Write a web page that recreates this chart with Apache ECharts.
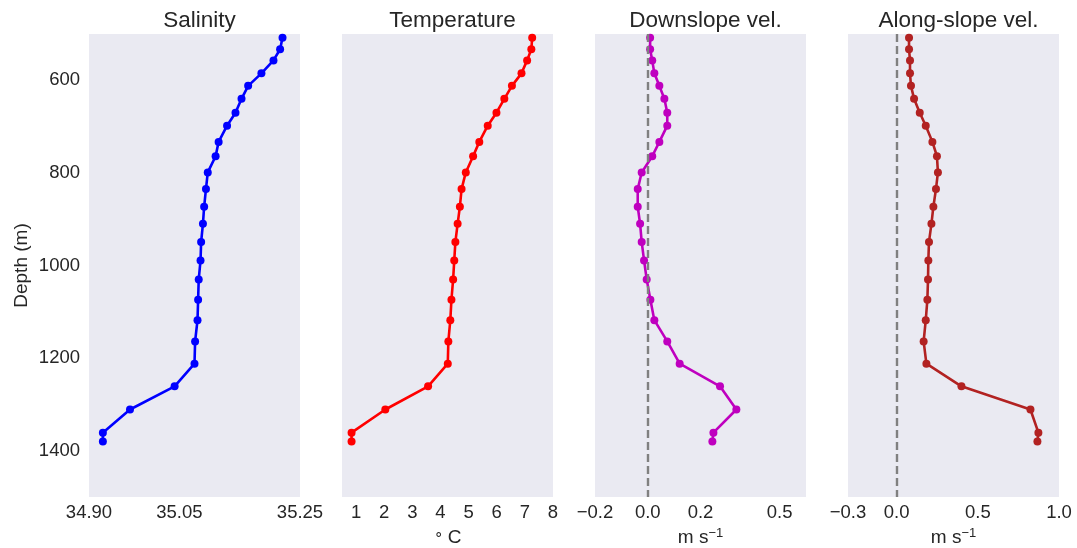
<!DOCTYPE html>
<html>
<head>
<meta charset="utf-8">
<script src="https://cdn.jsdelivr.net/npm/echarts@6/dist/echarts.min.js"></script>
<style>
html,body{margin:0;padding:0;background:#fff;}
#chart{width:1077px;height:548px;}
</style>
</head>
<body>
<div id="chart"></div>
<script>
const depth = [508, 533, 557, 585, 612, 640, 670, 698, 733, 764, 799, 835, 873, 910, 949, 989, 1030, 1074, 1118, 1164, 1212, 1261, 1311, 1361, 1380];
const salinity = [35.221, 35.217, 35.206, 35.186, 35.164, 35.153, 35.143, 35.129, 35.115, 35.110, 35.097, 35.094, 35.091, 35.089, 35.086, 35.085, 35.082, 35.081, 35.080, 35.076, 35.075, 35.042, 34.968, 34.923, 34.923];
const temperature = [7.26, 7.23, 7.08, 6.88, 6.54, 6.27, 5.99, 5.68, 5.38, 5.16, 4.90, 4.75, 4.69, 4.61, 4.53, 4.49, 4.45, 4.39, 4.35, 4.28, 4.26, 3.56, 2.04, 0.84, 0.84];
const downslope = [0.009, 0.009, 0.017, 0.025, 0.044, 0.063, 0.074, 0.074, 0.044, 0.017, -0.023, -0.038, -0.038, -0.029, -0.023, -0.014, -0.004, 0.010, 0.025, 0.074, 0.121, 0.274, 0.336, 0.249, 0.245];
const alongslope = [0.076, 0.076, 0.082, 0.082, 0.088, 0.107, 0.142, 0.179, 0.220, 0.248, 0.254, 0.242, 0.226, 0.214, 0.199, 0.195, 0.193, 0.189, 0.179, 0.166, 0.183, 0.399, 0.824, 0.873, 0.867];

const depthTicks = [600, 800, 1000, 1200, 1400];
const salinityTicks = [34.90, 35.05, 35.25];
const temperatureTicks = [1, 2, 3, 4, 5, 6, 7, 8];
const downslopeTicks = [-0.2, 0.0, 0.2, 0.5];
const alongTicks = [-0.3, 0.0, 0.5, 1.0];

const titles = ['Salinity', 'Temperature', 'Downslope vel.', 'Along-slope vel.'];
const xRanges = [[34.90, 35.25], [0.5, 8], [-0.2, 0.6], [-0.3, 1.0]];
const xTickSets = [salinityTicks, temperatureTicks, downslopeTicks, alongTicks];
const xDecimals = [2, 0, 1, 1];
const xNames = ['', '{deg|\u2218}C', 'm s{sup|\u22121}', 'm s{sup|\u22121}'];
const values = [salinity, temperature, downslope, alongslope];
const colors = ['#0000ff', '#ff0000', '#bf00bf', '#b22222'];

const lefts = [89, 342, 595, 848];
const W = 211, TOP = 34, H = 463;
const FONT = 'Liberation Sans, Arial, sans-serif';
const TXT = '#262626';

const grids = [], xAxes = [], yAxes = [], series = [], title = [];
for (let i = 0; i < 4; i++) {
  grids.push({left: lefts[i], top: TOP, width: W, height: H, show: true, backgroundColor: '#eaeaf2',
    borderWidth: 0, containLabel: false, outerBoundsMode: 'none'});
  title.push({text: titles[i], left: lefts[i] + W / 2, top: 4, textAlign: 'center',
    textStyle: {fontFamily: FONT, fontSize: 22.5, fontWeight: 'normal', color: TXT}});
  const dec = xDecimals[i];
  xAxes.push({
    type: 'value', gridIndex: i, min: xRanges[i][0], max: xRanges[i][1],
    axisLine: {show: false}, axisTick: {show: false}, splitLine: {show: false},
    axisLabel: {
      customValues: xTickSets[i], margin: 6, fontFamily: FONT, fontSize: 18.5, color: TXT,
      showMinLabel: true, showMaxLabel: true, hideOverlap: false,
      formatter: v => v.toFixed(dec).replace('-', '\u2212')
    },
    name: xNames[i], nameLocation: 'middle', nameGap: 30,
    nameTextStyle: {fontFamily: FONT, fontSize: 19, color: TXT, lineHeight: 22,
      rich: {
        sup: {fontFamily: FONT, fontSize: 13, color: TXT, verticalAlign: 'top', lineHeight: 14},
        deg: {fontFamily: FONT, fontSize: 15, color: TXT, verticalAlign: 'top', lineHeight: 14, padding: [0, 5, 0, 0]}
      }}
  });
  yAxes.push({
    type: 'value', gridIndex: i, min: 500, max: 1500, inverse: true,
    axisLine: {show: false}, axisTick: {show: false}, splitLine: {show: false},
    axisLabel: {show: i === 0, customValues: depthTicks, margin: 9, fontFamily: FONT, fontSize: 18.5, color: TXT,
      formatter: v => String(v)},
    name: i === 0 ? 'Depth (m)' : '', nameLocation: 'middle', nameGap: 58, nameRotate: 90,
    nameTextStyle: {fontFamily: FONT, fontSize: 19, color: TXT}
  });
  const s = {
    type: 'line', xAxisIndex: i, yAxisIndex: i,
    data: values[i].map((v, k) => [v, depth[k]]),
    symbol: 'circle', symbolSize: 8, showSymbol: true,
    lineStyle: {color: colors[i], width: 2.6},
    itemStyle: {color: colors[i]},
    animation: false, z: 3
  };
  if (i >= 2) {
    s.markLine = {
      silent: true, symbol: 'none', label: {show: false}, animation: false,
      lineStyle: {color: '#808080', width: 2.4, type: [8, 4]},
      data: [{xAxis: 0}]
    };
  }
  series.push(s);
}

const chart = echarts.init(document.getElementById('chart'), null, {renderer: 'canvas'});
chart.setOption({
  animation: false,
  backgroundColor: '#ffffff',
  title: title,
  grid: grids,
  xAxis: xAxes,
  yAxis: yAxes,
  series: series
});
</script>
</body>
</html>
